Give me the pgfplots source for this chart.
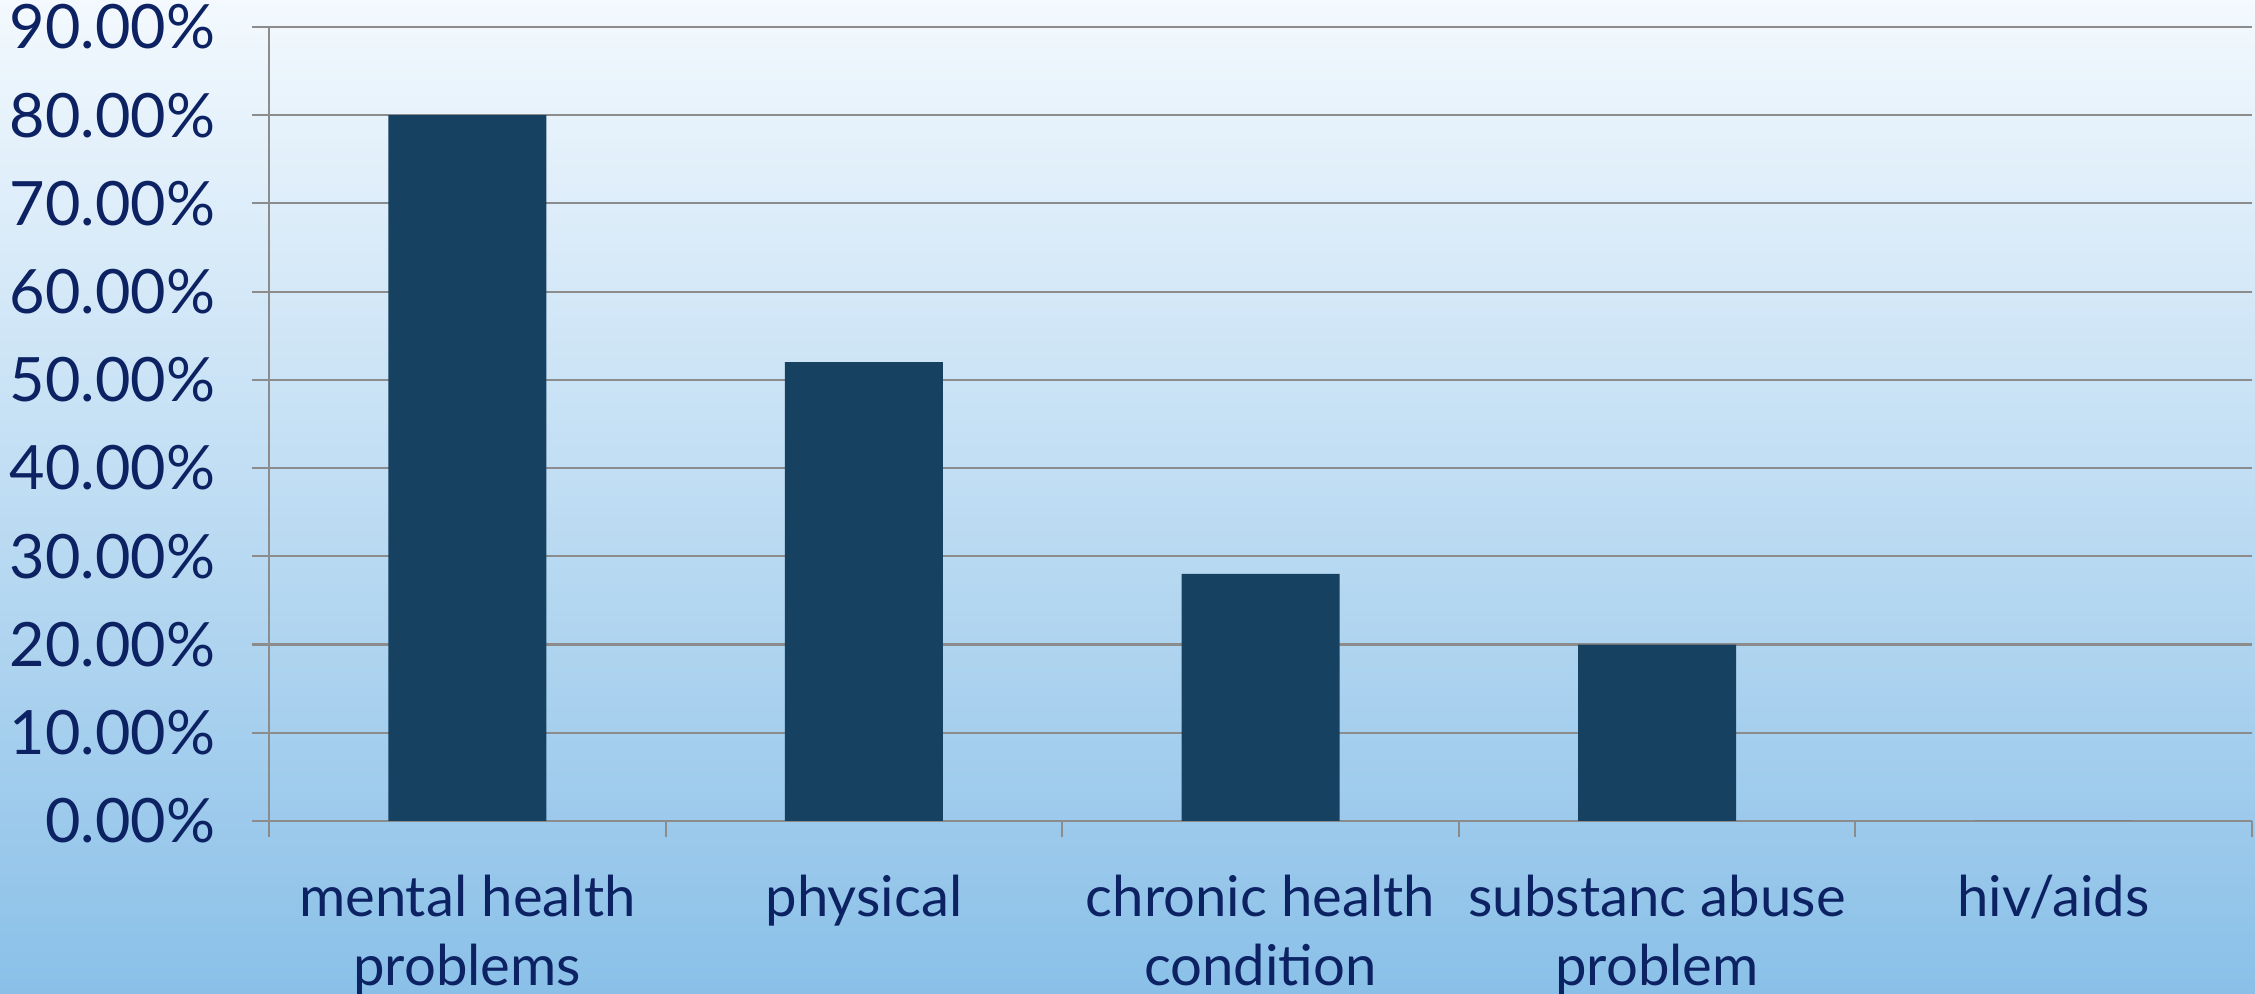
\documentclass[border=0pt]{standalone}
\usepackage{fontspec}
\setmainfont{Lato}
\usepackage{pgfplots}
\pgfplotsset{compat=1.18}
\definecolor{barblue}{RGB}{22,65,96}
\definecolor{txtblue}{RGB}{12,34,98}
\definecolor{gridgray}{RGB}{140,140,140}
\definecolor{bgtop}{RGB}{243,249,254}
\definecolor{bgmid}{RGB}{198,225,243}
\definecolor{bgbot}{RGB}{138,192,232}
\begin{document}
\begin{tikzpicture}
\shade[top color=bgtop, middle color=bgmid, bottom color=bgbot] (0,0) rectangle (22.55cm,9.94cm);
\begin{axis}[
  at={(2.69cm,1.73cm)}, anchor=south west,
  scale only axis, width=19.83cm, height=7.94cm,
  ybar, bar width=1.58cm,
  xmin=-0.5, xmax=4.5, ymin=0, ymax=90,
  xtick={0,...,4},
  xticklabels={{\strut mental health\\problems},{\strut physical},{\strut chronic health\\condition},{\strut substanc abuse\\problem},{\strut hiv/aids}},
  minor xtick={-0.5,0.5,...,4.5},
  ytick={0,10,...,90},
  yticklabel={\pgfmathprintnumber[fixed,fixed zerofill,precision=2,assume math mode=true]{\tick}\%},
  /pgf/number format/assume math mode=true,
  axis x line*=bottom, axis y line*=left,
  axis line style={gridgray, line width=0.6pt},
  tick align=outside,
  tick style={gridgray, line width=0.6pt},
  major x tick style={draw=none},
  major tick length=0.17cm, minor tick length=0.16cm,
  ymajorgrids, grid style={gridgray, line width=0.6pt},
  xticklabel style={font=\fontsize{16}{19.8}\selectfont, text=txtblue, align=center, anchor=north, inner sep=0pt, yshift=-0.29cm},
  yticklabel style={font=\fontsize{17.4}{20}\selectfont, text=txtblue, anchor=east, inner sep=0pt, xshift=-0.36cm},
]
\addplot[fill=barblue, draw=none] coordinates {(0,80) (1,52) (2,28) (3,20) (4,0)};
\end{axis}
\pgfresetboundingbox
\useasboundingbox (0,0) rectangle (22.55cm,9.94cm);
\end{tikzpicture}
\end{document}
